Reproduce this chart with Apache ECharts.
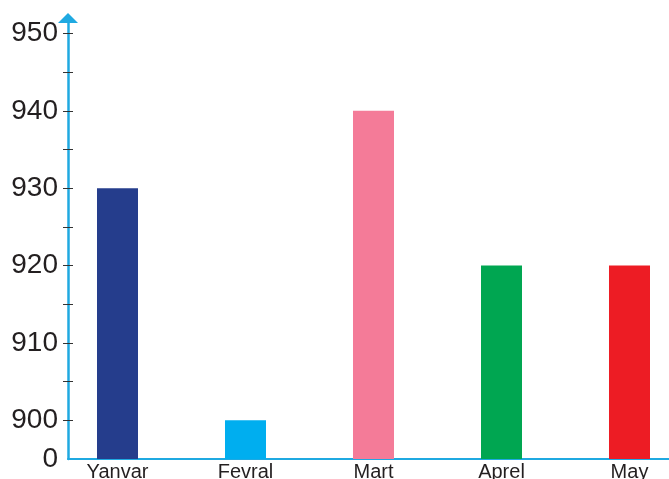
<!DOCTYPE html>
<html>
<head>
<meta charset="utf-8">
<script src="https://cdn.jsdelivr.net/npm/echarts@6/dist/echarts.min.js"></script>
<style>
  html, body { margin: 0; padding: 0; background: #ffffff; }
  #chart { width: 669px; height: 479px; }
</style>
</head>
<body>
<div id="chart"></div>
<script>
// Monthly values
const months = ['Yanvar', 'Fevral', 'Mart', 'Aprel', 'May'];
const values = [930, 900, 940, 920, 920];
const barColors = ['#253d8c', '#00aeef', '#f47b98', '#00a651', '#ed1c24'];

// Broken y scale: the axis jumps from 0 straight to 900 near the bottom
const yTickLabels = [0, 900, 910, 920, 930, 940, 950];
const breakBase = 895; // scale value 0 on the axis, 900 sits 5 units above it
const toScale = v => (v === 0 ? 0 : v - breakBase);
const fromScale = s => (s === 0 ? 0 : s + breakBase);

const axisBlue = '#1fa9e1';
const textColor = '#231f20';
const font = 'Liberation Sans, Arial, Helvetica, sans-serif';

const labelStops = yTickLabels.map(toScale);
const tickStops = [];
for (let s = 5; s <= toScale(950); s += 5) tickStops.push(s);

const chart = echarts.init(document.getElementById('chart'));
chart.setOption({
  animation: false,
  backgroundColor: '#ffffff',
  grid: {
    left: 68, right: 0, top: 18, bottom: 20,
    containLabel: false,
    outerBoundsMode: 'none'
  },
  xAxis: {
    type: 'value',
    min: -0.3867,
    max: 4.3086,
    axisLine: { show: true, onZero: false, lineStyle: { color: axisBlue, width: 2 } },
    axisTick: { show: false },
    splitLine: { show: false },
    axisLabel: {
      customValues: months.map((m, i) => i),
      formatter: v => months[Math.round(v)] || '',
      color: textColor,
      fontSize: 20,
      fontFamily: font,
      margin: 3
    }
  },
  yAxis: [
    {
      type: 'value',
      min: 0,
      max: 57,
      axisLine: {
        show: true,
        onZero: false,
        symbol: ['none', 'triangle'],
        symbolSize: [20, 10],
        lineStyle: { color: axisBlue, width: 2.5 }
      },
      axisTick: { show: false },
      splitLine: { show: false },
      axisLabel: {
        customValues: labelStops,
        formatter: s => String(fromScale(s)),
        color: textColor,
        fontSize: 28,
        fontFamily: font,
        margin: 10
      }
    },
    {
      // tick marks crossing the axis line: shifted right, drawn outward
      type: 'value',
      min: 0,
      max: 57,
      position: 'left',
      offset: -5,
      axisLine: { show: false, onZero: false },
      axisTick: {
        show: true,
        customValues: tickStops,
        length: 10,
        lineStyle: { color: '#333333', width: 1 }
      },
      axisLabel: { show: false },
      splitLine: { show: false }
    }
  ],
  series: [
    {
      type: 'bar',
      barWidth: 41,
      z: 1,
      data: values.map((v, i) => ({
        value: [i, toScale(v)],
        itemStyle: { color: barColors[i] }
      }))
    }
  ]
});
</script>
</body>
</html>
